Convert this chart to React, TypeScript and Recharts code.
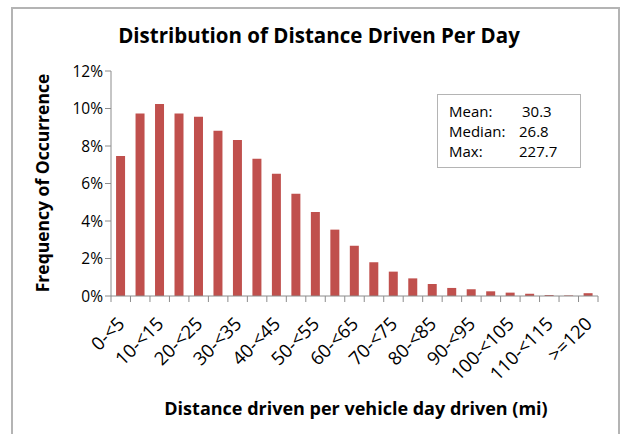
import React from 'react';
import { BarChart, Bar, XAxis, YAxis } from 'recharts';

const categories = [
  '0-<5', '5-<10', '10-<15', '15-<20', '20-<25', '25-<30', '30-<35', '35-<40',
  '40-<45', '45-<50', '50-<55', '55-<60', '60-<65', '65-<70', '70-<75', '75-<80',
  '80-<85', '85-<90', '90-<95', '95-<100', '100-<105', '105-<110', '110-<115', '115-<120', '>=120',
];
const frequency = [
  7.47, 9.74, 10.24, 9.74, 9.56, 8.82, 8.32, 7.32, 6.52, 5.46, 4.48, 3.54, 2.68,
  1.8, 1.3, 0.94, 0.64, 0.43, 0.36, 0.25, 0.18, 0.12, 0.05, 0.03, 0.15,
];
const yTicks = [0, 2, 4, 6, 8, 10, 12];
const statLabels = ['Mean:', 'Median:', 'Max:'];
const statValues = ['30.3', '26.8', '227.7'];

const data = categories.map((c, i) => ({ category: c, frequency: frequency[i] }));

const FONT = '"Open Sans", sans-serif';
const W = 624;
const H = 434;
const M = { top: 71, right: 26, left: 0, bottom: 0 };
const YW = 111;
const XH = 138;
const STEP = (W - M.right - YW) / categories.length;

const XTick = (props: any) => {
  const { x, y, payload, index } = props;
  const left = x - STEP / 2;
  const isLast = index === categories.length - 1;
  const tx = x + 5;
  const ty = y + 21;
  return (
    <g>
      <line x1={left} x2={left} y1={y - 8} y2={y - 2} stroke="#8c8c8c" strokeWidth={1} />
      {isLast && (
        <line x1={left + STEP} x2={left + STEP} y1={y - 8} y2={y - 2} stroke="#8c8c8c" strokeWidth={1} />
      )}
      {index % 2 === 0 && (
        <text
          x={tx}
          y={ty}
          transform={`rotate(-45 ${tx} ${ty})`}
          textAnchor="end"
          fontFamily={FONT}
          fontSize={18.5}
          fill="#000"
        >
          {payload.value}
        </text>
      )}
    </g>
  );
};

export default function App() {
  return (
    <div style={{ position: 'absolute', left: 0, top: 0, width: W, height: H, background: '#fff', overflow: 'hidden' }}>
      <div
        style={{
          position: 'absolute', left: 11, top: 7, width: 609, height: 440,
          border: '2px solid #b4b4b4', boxSizing: 'border-box',
        }}
      />
      <BarChart width={W} height={H} data={data} margin={M} barCategoryGap="26%">
        <text x={319} y={43} textAnchor="middle" fontFamily={FONT} fontWeight="bold" fontSize={20.5} fill="#000">
          Distribution of Distance Driven Per Day
        </text>
        <text
          x={49}
          y={183}
          transform="rotate(-90 49 183)"
          textAnchor="middle"
          fontFamily={FONT}
          fontWeight="bold"
          fontSize={17.5}
          fill="#000"
        >
          Frequency of Occurrence
        </text>
        <text x={356} y={415} textAnchor="middle" fontFamily={FONT} fontWeight="bold" fontSize={18} fill="#000">
          Distance driven per vehicle day driven (mi)
        </text>
        <XAxis
          dataKey="category"
          interval={0}
          height={XH}
          tickLine={false}
          axisLine={{ stroke: '#8c8c8c' }}
          tick={<XTick />}
        />
        <YAxis
          width={YW}
          domain={[0, 12]}
          ticks={yTicks}
          interval={0}
          tickFormatter={(v: number) => `${v}%`}
          axisLine={{ stroke: '#8c8c8c' }}
          tickLine={{ stroke: '#8c8c8c' }}
          tickSize={6}
          tick={{ fontFamily: FONT, fontSize: 15.5, fill: '#000' }}
        />
        <Bar dataKey="frequency" fill="#C0504D" isAnimationActive={false} />
      </BarChart>
      <div
        style={{
          position: 'absolute', left: 437, top: 94, width: 144, height: 74,
          border: '1px solid #b4b4b4', boxSizing: 'border-box', background: '#fff',
          fontFamily: FONT, fontSize: 15, color: '#000',
        }}
      >
        {statLabels.map((l, i) => (
          <div key={l} style={{ position: 'absolute', left: 11, top: 7 + i * 20, lineHeight: '18px', whiteSpace: 'nowrap' }}>
            {l}
            <span style={{ position: 'absolute', left: i === 0 ? 73 : 70 }}>{statValues[i]}</span>
          </div>
        ))}
      </div>
    </div>
  );
}
